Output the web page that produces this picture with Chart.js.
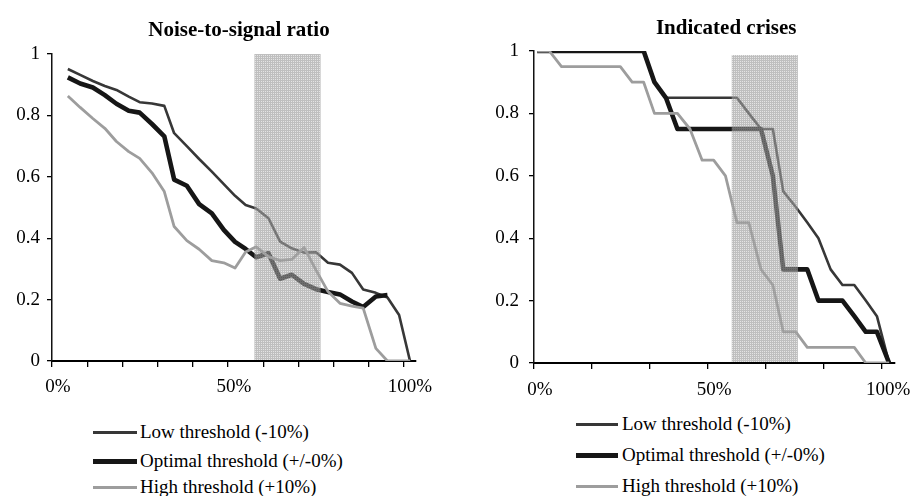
<!DOCTYPE html>
<html><head><meta charset="utf-8">
<script src="https://cdn.jsdelivr.net/npm/chart.js@4.4.1/dist/chart.umd.min.js"></script>
<style>
html,body{margin:0;padding:0;background:#fff;width:915px;height:496px;overflow:hidden;font-family:"Liberation Serif","Times New Roman",serif;}
#wrapL{position:absolute;left:0;top:0;width:457px;height:400px;}
#wrapR{position:absolute;left:457px;top:0;width:458px;height:400px;}
.legend{position:absolute;left:0;top:0;font-size:19px;color:#000;}
.item{position:absolute;height:20px;display:flex;align-items:center;white-space:nowrap;}
.swatch{display:inline-block;}
</style></head>
<body>
<div id="wrapL"><canvas id="cL"></canvas></div>
<div id="wrapR"><canvas id="cR"></canvas></div>
<div class="legend" id="legL"></div>
<div class="legend" id="legR"></div>
<script>
// ---- data ----
const seriesNames = ['Low threshold (-10%)', 'Optimal threshold (+/-0%)', 'High threshold (+10%)'];
const seriesColors = ['#373737', '#161616', '#9d9d9d'];
const seriesWidths = [2.6, 4.6, 2.8];
const legendWidths = [3, 5, 3];

const nsrTitle = 'Noise-to-signal ratio';
const nsrX = [4.5, 8.0, 11.6, 15.0, 18.3, 21.8, 24.9, 28.4, 31.9, 34.7, 38.3, 41.8, 45.4, 48.8, 52.0, 55.0, 58.0, 61.5, 64.8, 68.1, 71.6, 75.0, 78.4, 81.8, 85.2, 88.4, 92.0, 95.3, 98.6, 101.7];
const nsrLow = [0.951, 0.932, 0.912, 0.896, 0.883, 0.861, 0.843, 0.839, 0.831, 0.742, 0.700, 0.658, 0.617, 0.576, 0.538, 0.508, 0.497, 0.465, 0.389, 0.367, 0.353, 0.354, 0.320, 0.314, 0.287, 0.233, 0.222, 0.207, 0.150, 0];
const nsrOptimal = [0.924, 0.904, 0.891, 0.866, 0.838, 0.815, 0.809, 0.772, 0.732, 0.591, 0.571, 0.511, 0.481, 0.427, 0.388, 0.365, 0.338, 0.351, 0.268, 0.281, 0.251, 0.234, 0.225, 0.217, 0.194, 0.176, 0.210, 0.215, null, null];
const nsrHigh = [0.863, 0.826, 0.790, 0.758, 0.715, 0.682, 0.660, 0.613, 0.552, 0.438, 0.392, 0.364, 0.327, 0.320, 0.303, 0.355, 0.372, 0.340, 0.327, 0.331, 0.370, 0.296, 0.226, 0.188, 0.179, 0.172, 0.041, 0, 0, 0];
const nsrTicks = [0, 10, 20, 30, 40, 50, 60, 70, 80, 90, 100];
const nsrTickLabels = ['0%', '', '', '', '', '50%', '', '', '', '', '100%'];
const nsrBand = [57.5, 76.3, 1.0];

const crisesTitle = 'Indicated crises';
const crisesX = [0.9, 4.4, 7.9, 11.2, 14.5, 17.9, 21.2, 24.8, 28.2, 31.5, 34.6, 37.9, 41.2, 44.8, 48.3, 51.6, 55.0, 58.3, 61.7, 65.2, 68.6, 71.6, 75.2, 78.5, 81.7, 85.2, 88.6, 92.0, 95.3, 98.5, 102.0];
const crisesLow = [1, 1, 1, 1, 1, 1, 1, 1, 1, 1, 0.9, 0.85, 0.85, 0.85, 0.85, 0.85, 0.85, 0.85, 0.8, 0.75, 0.75, 0.55, 0.5, 0.45, 0.4, 0.3, 0.25, 0.25, 0.2, 0.15, 0];
const crisesOptimal = [1, 1, 1, 1, 1, 1, 1, 1, 1, 1, 0.9, 0.85, 0.75, 0.75, 0.75, 0.75, 0.75, 0.75, 0.75, 0.75, 0.6, 0.3, 0.3, 0.3, 0.2, 0.2, 0.2, 0.15, 0.1, 0.1, 0];
const crisesHigh = [1, 1, 0.95, 0.95, 0.95, 0.95, 0.95, 0.95, 0.9, 0.9, 0.8, 0.8, 0.8, 0.75, 0.65, 0.65, 0.6, 0.45, 0.45, 0.3, 0.25, 0.1, 0.1, 0.05, 0.05, 0.05, 0.05, 0.05, 0, 0, 0];
const crisesTicks = [0, 16.67, 33.33, 50, 66.67, 83.33, 100];
const crisesTickLabels = ['0%', '', '', '50%', '', '', '100%'];
const crisesBand = [56.8, 75.8, 0.987];

// ---- rendering ----
const FONT = '"Liberation Serif", "Times New Roman", serif';
Chart.defaults.font.family = FONT;
Chart.defaults.color = '#000';

function makePattern(ctx) {
  const c = document.createElement('canvas');
  c.width = 2; c.height = 2;
  const g = c.getContext('2d');
  g.fillStyle = 'rgba(190,190,190,0.42)';
  g.fillRect(0, 0, 2, 2);
  g.fillStyle = 'rgba(135,135,135,0.4)';
  g.fillRect(0, 0, 2, 1);
  g.fillRect(0, 1, 1, 1);
  return ctx.createPattern(c, 'repeat');
}

const bandPlugin = {
  id: 'band',
  afterDatasetsDraw(chart, args, opts) {
    const xs = chart.scales.x, ys = chart.scales.y, ctx = chart.ctx;
    const x0 = xs.getPixelForValue(opts.range[0]);
    const x1 = xs.getPixelForValue(opts.range[1]);
    const y0 = ys.getPixelForValue(opts.range[2]);
    const y1 = ys.getPixelForValue(0) - 1;
    ctx.save();
    ctx.fillStyle = makePattern(ctx);
    ctx.fillRect(x0, y0, x1 - x0, y1 - y0);
    ctx.restore();
  }
};

const titleShift = {
  id: 'titleShift',
  afterLayout(chart, args, opts) {
    const t = chart.titleBlock;
    if (t && opts.dx) { t.left += opts.dx; t.right += opts.dx; }
  }
};

function toPoints(xs, ys) {
  return xs.map((x, i) => ({x: x, y: ys[i]})).filter(p => p.y !== null);
}

function makeChart(id, cfg) {
  const sets = [cfg.low, cfg.opt, cfg.high].map((vals, k) => ({
    label: seriesNames[k],
    data: toPoints(cfg.x, vals),
    borderColor: seriesColors[k],
    backgroundColor: seriesColors[k],
    borderWidth: seriesWidths[k],
    pointRadius: 0,
    tension: 0,
    fill: false,
    borderJoinStyle: 'round',
    order: 3 - k
  }));
  return new Chart(document.getElementById(id), {
    type: 'line',
    data: {datasets: sets},
    plugins: [bandPlugin, titleShift],
    options: {
      responsive: true,
      maintainAspectRatio: false,
      animation: false,
      layout: {padding: {left: 0, right: cfg.padRight, top: 0, bottom: 0}},
      plugins: {
        legend: {display: false},
        tooltip: {enabled: false},
        title: {
          display: true, text: cfg.title, fullSize: false, color: '#000',
          font: {size: 21, weight: 'bold', family: FONT, lineHeight: 1},
          padding: {top: cfg.titleTop, bottom: cfg.titleBottom}
        },
        titleShift: {dx: cfg.titleDx},
        band: {range: cfg.band}
      },
      scales: {
        x: {
          type: 'linear', min: 0, max: cfg.xMax,
          afterBuildTicks: s => { s.ticks = cfg.ticks.map(v => ({value: v})); },
          afterFit: s => { s.height = cfg.xAxisH; },
          grid: {drawOnChartArea: false, drawTicks: true, tickLength: 6, color: '#000', lineWidth: 1.3},
          border: {display: true, color: '#000', width: 2},
          ticks: {
            autoSkip: false, maxRotation: 0, padding: cfg.xPad, labelOffset: 6,
            color: '#000', font: {size: 19, family: FONT},
            callback: (v, i) => cfg.tickLabels[i]
          }
        },
        y: {
          min: 0, max: 1,
          afterFit: s => { s.width = cfg.yAxisW; },
          grid: {drawOnChartArea: false, drawTicks: true, tickLength: 5, color: '#000', lineWidth: 1.3},
          border: {display: true, color: '#111', width: 1.5},
          ticks: {
            stepSize: 0.2, padding: cfg.yPad, color: '#000', font: {size: 19, family: FONT},
            callback: v => String(Number(v.toFixed(2)))
          }
        }
      }
    }
  });
}

makeChart('cL', {
  title: nsrTitle, x: nsrX, low: nsrLow, opt: nsrOptimal, high: nsrHigh,
  ticks: nsrTicks, tickLabels: nsrTickLabels, band: nsrBand,
  padRight: 41, yAxisW: 52, xAxisH: 39, xMax: 103.4, xPad: 9, yPad: 7,
  titleTop: 20, titleBottom: 13, titleDx: 5
});
makeChart('cR', {
  title: crisesTitle, x: crisesX, low: crisesLow, opt: crisesOptimal, high: crisesHigh,
  ticks: crisesTicks, tickLabels: crisesTickLabels, band: crisesBand,
  padRight: 18, yAxisW: 77, xAxisH: 37, xMax: 103.5, xPad: 10, yPad: 10,
  titleTop: 18, titleBottom: 12, titleDx: 12
});

function makeLegend(id, left, centers, lineW, gap) {
  const el = document.getElementById(id);
  seriesNames.forEach((name, k) => {
    const item = document.createElement('div');
    item.className = 'item';
    item.style.left = left + 'px';
    item.style.top = (centers[k] - 10) + 'px';
    const sw = document.createElement('span');
    sw.className = 'swatch';
    sw.style.width = lineW + 'px';
    sw.style.height = legendWidths[k] + 'px';
    sw.style.background = seriesColors[k];
    sw.style.marginRight = gap + 'px';
    const tx = document.createElement('span');
    tx.textContent = name;
    item.appendChild(sw);
    item.appendChild(tx);
    el.appendChild(item);
  });
}
makeLegend('legL', 93, [432, 461, 487], 44, 3);
makeLegend('legR', 576, [424, 455, 486], 42, 4);
</script>
</body></html>
